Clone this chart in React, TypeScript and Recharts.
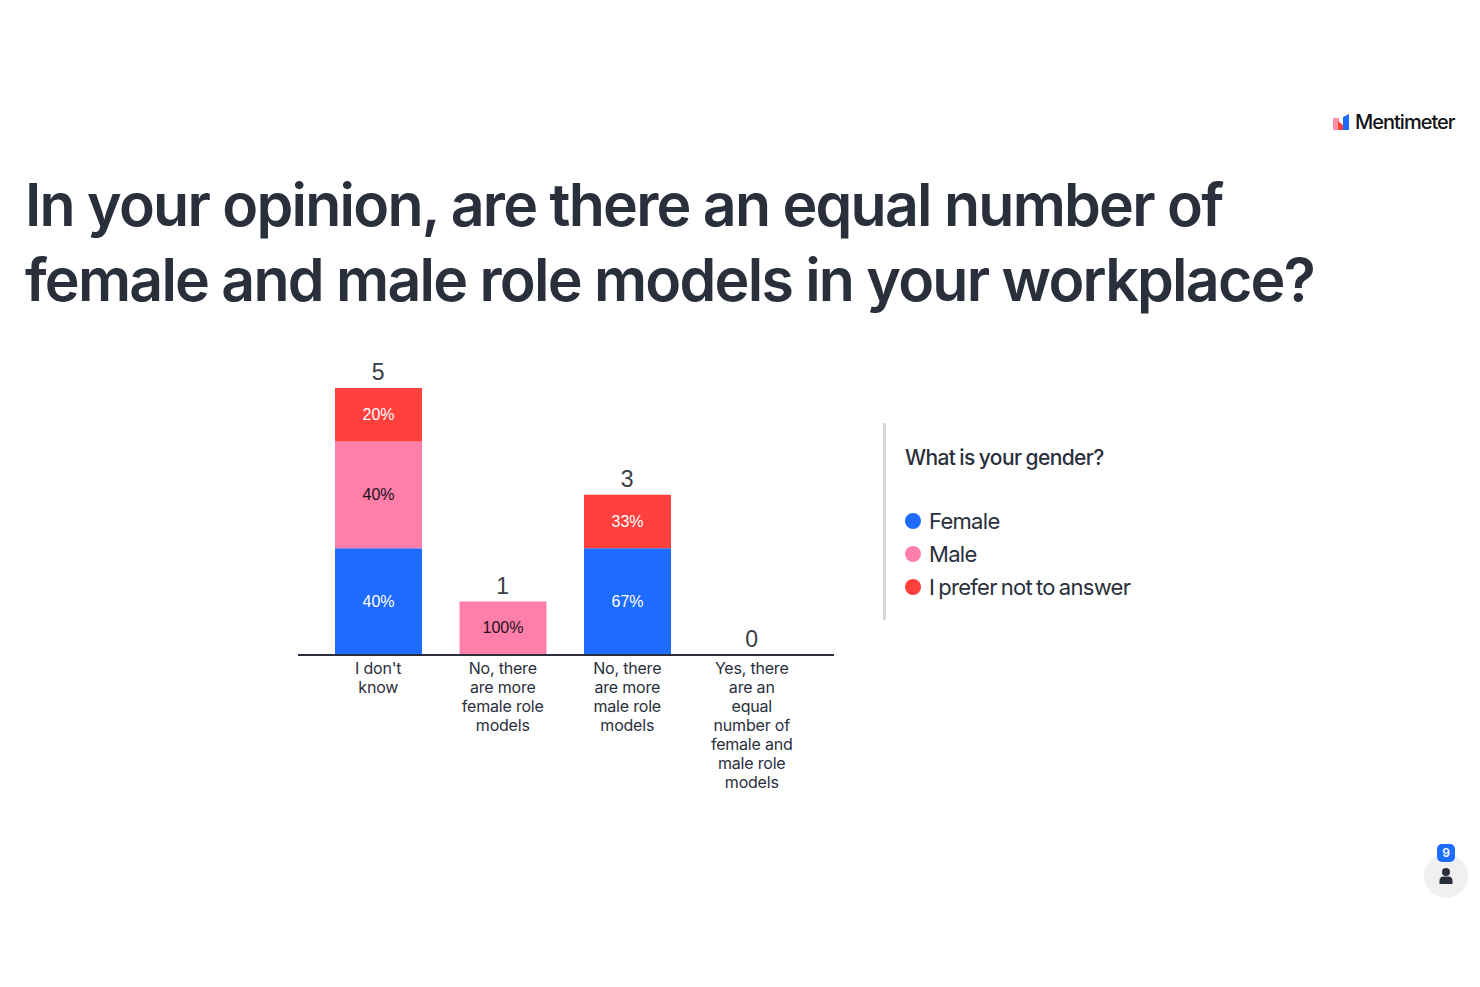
import { Bar, ComposedChart, LabelList, Line, XAxis, YAxis } from "recharts"

const categories = ["I don't know", "No, there are more female role models", "No, there are more male role models", "Yes, there are an equal number of female and male role models"]
const categoryLines = [
  ["I don't", "know"],
  ["No, there", "are more", "female role", "models"],
  ["No, there", "are more", "male role", "models"],
  ["Yes, there", "are an", "equal", "number of", "female and", "male role", "models"],
]
const female = [2, 0, 2, 0]
const male = [2, 1, 0, 0]
const noAnswer = [1, 0, 1, 0]
const totals = [5, 1, 3, 0]

const titleLines = ["In your opinion, are there an equal number of", "female and male role models in your workplace?"]
const legendTitle = "What is your gender?"

const FONT = "Inter, sans-serif"
const DARK = "#2a2f3c"
const BLUE = "#1e6bff"
const PINK = "#ff7fa8"
const RED = "#ff403d"

const series = [
  { name: "Female", key: "female", color: BLUE, text: "#ffffff" },
  { name: "Male", key: "male", color: PINK, text: "#1c1020" },
  { name: "I prefer not to answer", key: "noAnswer", color: RED, text: "#ffffff" },
]

const pct = (v: number, t: number) => (v ? `${Math.round((v / t) * 100)}%` : "")

const data = categories.map((name, i) => ({
  name,
  female: female[i],
  male: male[i],
  noAnswer: noAnswer[i],
  femalePct: pct(female[i], totals[i]),
  malePct: pct(male[i], totals[i]),
  noAnswerPct: pct(noAnswer[i], totals[i]),
  total: totals[i],
}))

function CategoryTick({ x, y, payload, index }: any) {
  const lines = categoryLines[payload.index ?? index]
  return (
    <text x={x} y={y + 11} textAnchor="middle" fontFamily={FONT} fontSize={16} letterSpacing={-0.2} fill={DARK}>
      {lines.map((l, i) => (
        <tspan key={l + i} x={x} dy={i === 0 ? 0 : 19}>
          {l}
        </tspan>
      ))}
    </text>
  )
}

function percentLabel(color: string) {
  return (props: any) => {
    const { x, y, width, height, value } = props
    if (!value) return null
    return (
      <text
        x={x + width / 2}
        y={y + height / 2 + 5}
        textAnchor="middle"
        fontFamily="'Liberation Sans', sans-serif"
        fontSize={16}
        fill={color}
      >
        {value}
      </text>
    )
  }
}

function GenderLegend() {
  return (
    <div style={{ position: "absolute", left: 883, top: 423, width: 300, height: 197, fontFamily: FONT, color: DARK, borderLeft: "3px solid #d4d5d7", boxSizing: "border-box" }}>
      <div style={{ position: "absolute", top: 22, left: 19, fontSize: 21, fontWeight: 500, letterSpacing: -0.6, wordSpacing: -1, whiteSpace: "nowrap" }}>{legendTitle}</div>
      {series.map((s, i) => (
        <div key={s.key} style={{ position: "absolute", top: 85 + i * 33, left: 19, display: "flex", alignItems: "center", fontSize: 22, letterSpacing: -0.7, wordSpacing: -1.5, whiteSpace: "pre" }}>
          <span style={{ width: 16, height: 16, borderRadius: 8, background: s.color, marginRight: 8 }} />
          {s.name}
        </div>
      ))}
    </div>
  )
}

function Logo() {
  return (
    <div style={{ position: "absolute", left: 1333, top: 110, display: "flex", alignItems: "center", fontFamily: FONT, fontWeight: 500, fontSize: 20, letterSpacing: -1, color: "#111318" }}>
      <svg width={16} height={16} viewBox="0 0 16 16" style={{ marginRight: 6 }}>
        <rect x={0} y={4} width={6} height={12} fill="#ff8fa8" />
        <polygon points="5,16 5,7 10,11 10,16" fill="#ff403d" />
        <polygon points="10,16 10,3 16,0 16,16" fill="#1e6bff" />
      </svg>
      Mentimeter
    </div>
  )
}

function Participants() {
  return (
    <>
      <div style={{ position: "absolute", left: 1424, top: 854, width: 44, height: 44, borderRadius: 22, background: "#f0f0f1" }}>
        <svg width={44} height={44} viewBox="0 0 44 44">
          <circle cx={22} cy={18} r={4} fill={DARK} />
          <path d="M15.5 30 v-3 q0 -4.500 4 -4.500 h5 q4 0 4 4.500 v3 z" fill={DARK} />
        </svg>
      </div>
      <div style={{ position: "absolute", left: 1437, top: 844, width: 18, height: 18, borderRadius: 5, background: BLUE, color: "#fff", fontFamily: FONT, fontSize: 12, fontWeight: 600, textAlign: "center", lineHeight: "18px" }}>9</div>
    </>
  )
}

export default function App() {
  return (
    <div style={{ position: "absolute", left: 0, top: 0, width: 1480, height: 987, background: "#ffffff", overflow: "hidden" }}>
      <Logo />
      {titleLines.map((line, i) => (
        <div
          key={line}
          style={{ position: "absolute", left: 25, top: 167 + i * 75, fontFamily: FONT, fontWeight: 560, fontSize: 59, lineHeight: "75px", letterSpacing: -1.75, color: DARK, whiteSpace: "nowrap" }}
        >
          {line}
        </div>
      ))}
      <Participants />
      <GenderLegend />
      <div style={{ position: "absolute", left: 0, top: 0 }}>
        <ComposedChart width={1480} height={987} data={data} margin={{ top: 388, right: 646, bottom: 302, left: 298 }}>
          <XAxis
            dataKey="name"
            interval={0}
            padding={{ left: 18, right: 20 }}
            tickLine={false}
            axisLine={{ stroke: DARK, strokeWidth: 2 }}
            tick={<CategoryTick />}
            height={30}
          />
          <YAxis hide domain={[0, 5]} />
          {series.map((s) => (
            <Bar key={s.key} dataKey={s.key} name={s.name} stackId="a" fill={s.color} barSize={87} isAnimationActive={false}>
              <LabelList dataKey={s.key + "Pct"} content={percentLabel(s.text)} />
            </Bar>
          ))}
          <Line dataKey="total" stroke="none" dot={false} activeDot={false} legendType="none" isAnimationActive={false}>
            <LabelList dataKey="total" position="top" offset={8} fontFamily="'Liberation Sans', sans-serif" fontSize={23} fill="#3a3d46" />
          </Line>
        </ComposedChart>
      </div>
    </div>
  )
}
